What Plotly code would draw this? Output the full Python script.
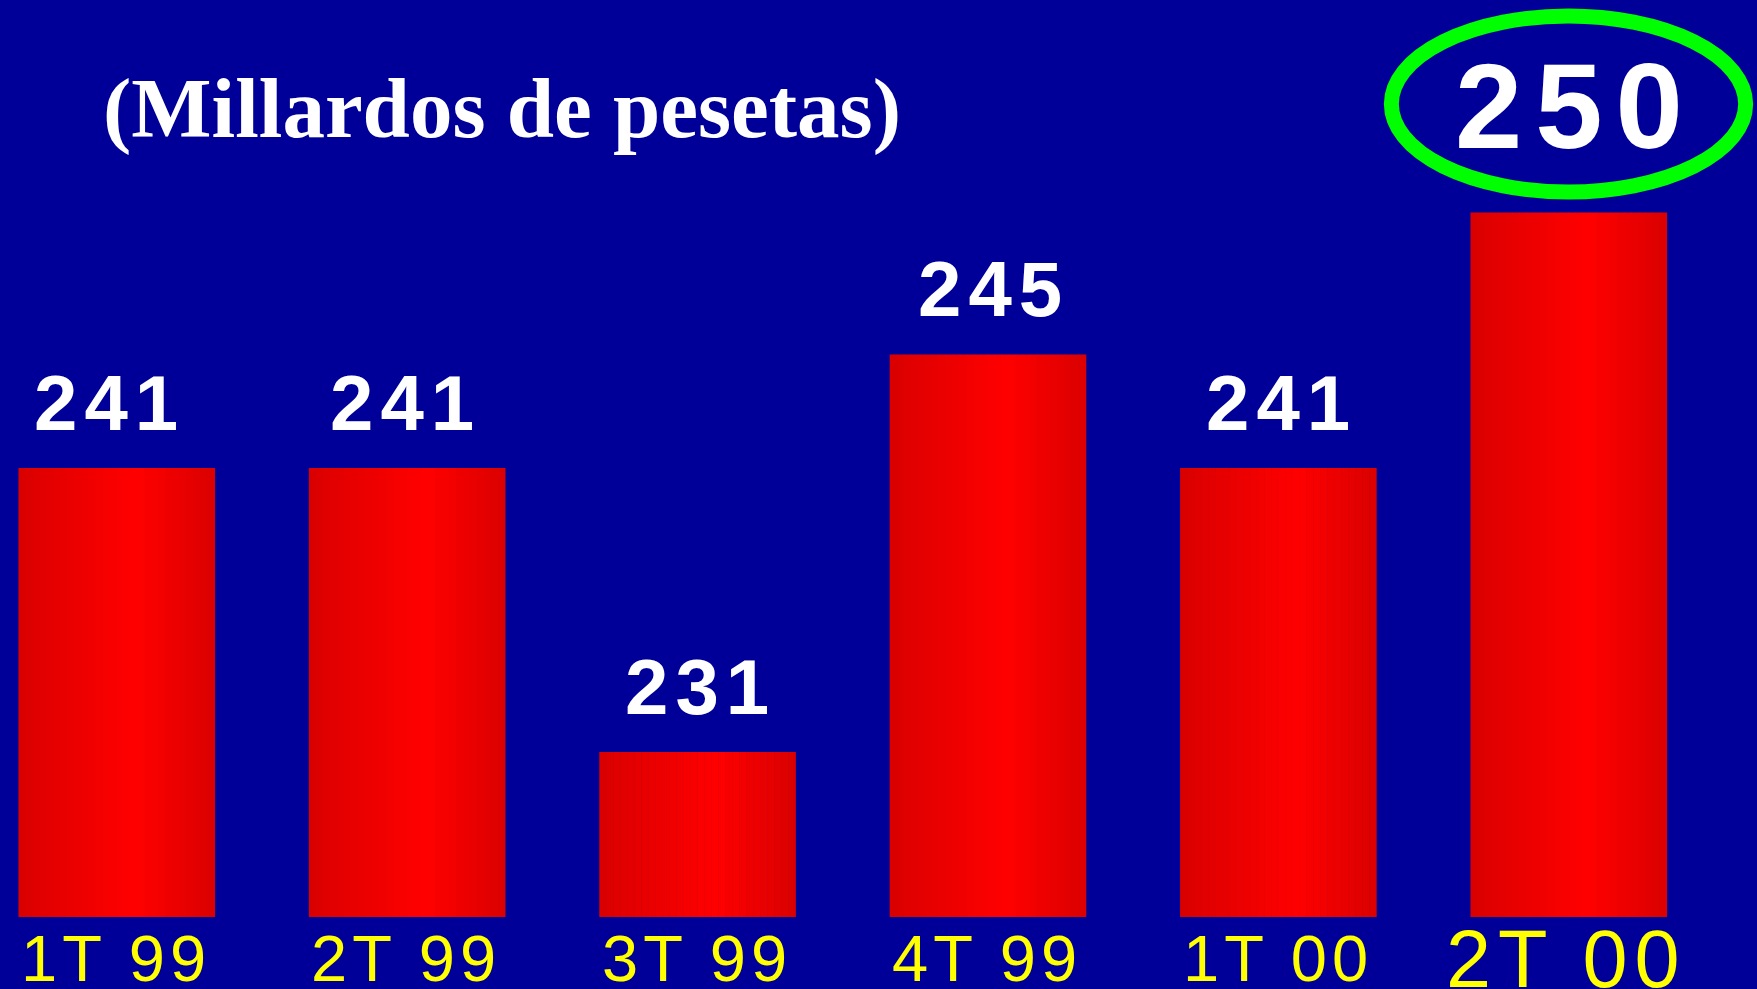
import plotly.graph_objects as go

# ---- data ----
categories = ["1T 99", "2T 99", "3T 99", "4T 99", "1T 00", "2T 00"]
values = [241, 241, 231, 245, 241, 250]
value_labels = ["241", "241", "231", "245", "241", "250"]
title_text = "(Millardos de pesetas)"

BG = "#000099"
W, H = 1757, 989
PLOT_BOTTOM = 72
PLOT_H = H - PLOT_BOTTOM
Y_MIN, Y_MAX = 225.19, 257.48
BAR_W = 0.675
N_SLICES = 28
PEAK = 0.6
STEP = 290.4
LABEL_DX = [-11, -5, 0, 2, 0, 0]

fig = go.Figure()

# horizontal gradient bars, built from narrow overlaid slices
for k in range(N_SLICES):
    t = (k + 0.5) / N_SLICES
    if t < PEAK:
        f = t / PEAK
    else:
        f = 1 - (t - PEAK) / (1 - PEAK)
    r = int(round(218 + 37 * f))
    color = f"rgb({r},0,0)"
    fig.add_trace(go.Bar(
        x=list(range(len(categories))),
        y=values,
        width=BAR_W / N_SLICES * 1.08,
        offset=-BAR_W / 2 + k * BAR_W / N_SLICES,
        marker=dict(color=color, line=dict(width=0)),
        showlegend=False,
        hoverinfo="skip",
    ))

SANS = "Liberation Sans, Arial, sans-serif"


def spaced(text, px, bold=False):
    inner = f'<span style="letter-spacing:{px}px">{text}</span>'
    return f"<b>{inner}</b>" if bold else inner


# value labels
VAL_LS = 7
for i, (v, lab) in enumerate(zip(values, value_labels)):
    if i == len(values) - 1:
        continue
    fig.add_annotation(
        x=i, y=v, xref="x", yref="y", text=spaced(lab, VAL_LS, bold=True),
        showarrow=False, yanchor="bottom", yshift=19, xshift=LABEL_DX[i] + VAL_LS / 2,
        font=dict(family=SANS, size=78, color="white"),
    )

# highlighted last value in the top ellipse
BIG_LS = 13
fig.add_annotation(
    x=len(values) - 1, y=(PLOT_H - 106) / PLOT_H,
    xref="x", yref="paper", text=spaced(value_labels[-1], BIG_LS, bold=True),
    showarrow=False, yanchor="middle", xshift=BIG_LS / 2,
    font=dict(family=SANS, size=121, color="white"),
)
fig.add_shape(
    type="circle", xref="x", yref="paper",
    x0=len(values) - 1 - 0.61, x1=len(values) - 1 + 0.61,
    ysizemode="pixel", yanchor=(PLOT_H - 104) / PLOT_H,
    y0=-88, y1=88,
    line=dict(color="#00FF00", width=15),
)

# category labels
for i, c in enumerate(categories):
    big = i == len(categories) - 1
    ls = 7 if big else 5
    fig.add_annotation(
        x=i, y=0, xref="x", yref="paper",
        text=spaced(c, ls),
        showarrow=False, yanchor="top", yshift=5 if big else -3,
        xshift=ls / 2 - (6 if big else 3),
        font=dict(family=SANS, size=81 if big else 65, color="#FFFF00"),
    )

# title
fig.add_annotation(
    x=101 / W, y=(PLOT_H - 108) / PLOT_H,
    xref="paper", yref="paper", text=f"<b>{title_text}</b>",
    showarrow=False, xanchor="left", yanchor="middle",
    font=dict(family="Liberation Serif, Times New Roman, serif", size=85, color="white"),
)

fig.update_layout(
    width=W, height=H,
    barmode="overlay",
    paper_bgcolor=BG, plot_bgcolor=BG,
    margin=dict(l=0, r=0, t=0, b=PLOT_BOTTOM),
    xaxis=dict(range=[-116.5 / STEP, -116.5 / STEP + W / STEP], visible=False, fixedrange=True),
    yaxis=dict(range=[Y_MIN, Y_MAX], visible=False, fixedrange=True),
)

fig.write_html(
    "out.html",
    config={"displayModeBar": False},
    post_script="document.body.style.margin='0';document.body.style.overflow='hidden';"
                "document.body.style.background='" + BG + "';",
)
